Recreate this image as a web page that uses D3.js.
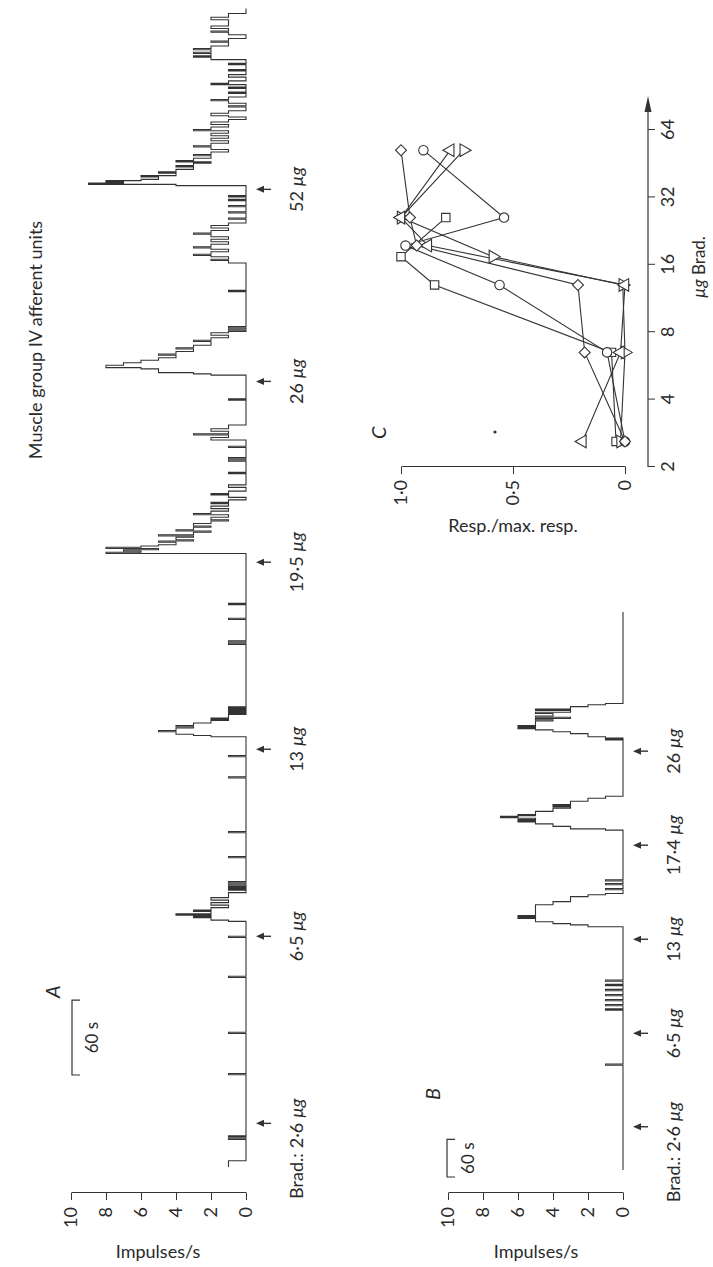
<!DOCTYPE html>
<html>
<head>
<meta charset="utf-8">
<script src="https://cdn.jsdelivr.net/npm/d3@7"></script>
<style>
  body { margin: 0; background: #fff; }
  text { font-family: Lato, "Open Sans", sans-serif; fill: #2a2a2a; }
</style>
</head>
<body>
<script>
const W = 713, H = 1267;

// ---- data ----
const impTicks = [0, 2, 4, 6, 8, 10];
const doseLabelsA = ["2·6", "6·5", "13", "19·5", "26", "52"];
const doseTimesA = [35, 185, 335, 485, 630, 784];
const doseLabelsB = ["2·6", "6·5", "13", "17·4", "26"];
const doseTimesB = [69, 218, 368, 518, 668];

// step histograms: [time s, impulses/s] (value holds until next entry)
const traceA = [[0,1],[5,0],[22,1],[23,0],[24,1],[25,0],[74,1],[75,0],[107,1],[108,0],[152,1],[153,0],[184,1],[185,0],
  [197,1],[198,2],[200,3],[201,2],[202,4],[203,2],[205,3],[206,2],[208,1],[210,2],[212,1],[214,2],[216,1],[220,0],
  [222,1],[223,0],[224,1],[225,0],[226,1],[227,0],[228,1],[229,0],
  [248,1],[249,0],[268,1],[269,0],[312,1],[313,0],[329,1],[330,0],
  [345,2],[346,3],[347,4],[349,5],[350,4],[352,3],[353,4],[354,3],[356,2],[358,1],[359,2],[360,1],[363,0],
  [364,1],[365,0],[366,1],[367,0],[368,1],[369,0],
  [419,1],[420,0],[421,1],[422,0],[439,1],[440,0],[451,1],[452,0],
  [492,8],[493,6],[494,7],[495,5],[496,8],[497,6],[498,5],[499,4],[501,5],[502,3],[503,4],[505,3],[506,5],[507,3],
  [509,2],[510,4],[511,3],[513,2],[514,3],[516,2],[518,1],[519,2],[521,1],[523,3],[524,2],[526,1],[528,2],[530,1],
  [532,2],[533,1],[535,0],[537,1],[539,2],[540,1],[542,0],[545,1],[547,0],[556,1],[557,0],[566,1],[567,0],[568,1],[569,0],
  [577,1],[578,0],[583,2],[585,1],[587,3],[588,1],[590,2],[592,1],[595,0],[615,1],[616,0],
  [635,2],[636,3],[637,5],[640,6],[641,8],[643,7],[645,6],[647,5],[649,4],[651,5],[652,4],[654,3],[656,4],[657,3],
  [659,2],[662,3],[663,2],[665,1],[667,2],[669,1],[670,0],[671,1],[672,0],[673,1],[674,0],[702,1],[703,0],
  [725,1],[727,2],[728,1],[730,2],[731,3],[732,2],[734,1],[736,2],[737,3],[738,2],[740,1],[742,2],[744,1],[746,2],
  [748,3],[749,2],[751,1],[753,2],[755,1],[757,0],[760,1],[761,0],[765,1],[766,0],[770,1],[771,0],[775,1],[776,0],[778,1],[779,0],
  [787,4],[788,9],[789,7],[790,8],[791,6],[792,5],[794,6],[795,4],[797,5],[798,4],[800,3],[802,4],[803,3],[805,2],
  [806,4],[807,3],[809,2],[811,3],[812,2],[814,1],[816,2],[818,3],[819,2],[821,1],[823,2],[825,1],[827,2],[829,1],
  [831,3],[832,2],[834,1],[836,2],[838,1],[840,0],[842,1],[843,2],[845,1],[847,0],[850,1],[851,0],[853,1],[855,2],
  [856,1],[858,0],[861,1],[862,0],[865,1],[866,0],[868,2],[869,1],[871,0],[874,1],[876,0],[879,1],[880,0],[884,1],
  [885,0],[888,2],[890,3],[891,2],[893,3],[894,2],[896,3],[897,2],[899,1],[902,2],[903,1],[905,0],[908,1],[910,2],
  [911,1],[913,2],[915,1],[920,2],[922,1],[925,0],[929,0]];

const traceB = [[0,0],[167,1],[169,0],
  [255,1],[257,0],[262,1],[264,0],[270,1],[272,0],[278,1],[280,0],[286,1],[288,0],[294,1],[296,0],[301,1],[303,0],
  [388,2],[391,3],[393,4],[396,5],[401,6],[402,5],[403,6],[404,5],[405,6],[406,5],[423,4],[428,3],[436,2],[439,1],[441,0],
  [447,1],[449,0],[455,1],[457,0],[461,1],[463,0],
  [542,1],[544,3],[548,4],[552,5],[555,6],[556,5],[558,6],[559,5],[561,6],[562,7],[564,6],[565,5],[566,6],[567,5],
  [572,4],[577,3],[579,4],[580,3],[582,4],[583,3],[588,2],[593,1],[596,0],
  [686,1],[688,0],[689,1],[691,2],[696,3],[699,4],[702,5],[704,6],[705,5],[706,6],[707,5],[708,6],[709,5],[716,4],
  [718,5],[720,3],[722,5],[724,4],[728,5],[730,3],[733,5],[735,3],[739,2],[742,1],[744,0],[890,0]];

// panel C: [dose µg, response / max response]
const doseTicksC = [2, 4, 8, 16, 32, 64];
const respTicksC = [0, 0.5, 1];
const circleUnit = [[2.6,0.0],[6.5,0.08],[13,0.56],[19.5,0.98],[26,0.54],[52,0.9]];
const diamondUnit = [[2.6,0.0],[6.5,0.18],[13,0.21],[19.5,0.93],[26,0.96],[52,1.0]];
const squareUnit = [[2.6,0.04],[6.5,0.06],[13,0.85],[17.4,1.0],[26,0.8]];
const triUpUnit = [[2.6,0.19],[6.5,0.02],[13,0.0],[19.5,0.88],[26,1.0],[52,0.78]];
const triDownUnit = [[2.6,0.02],[6.5,0.0],[13,0.01],[17.4,0.59],[26,1.0],[52,0.72]];

// ---- drawing ----
const svg = d3.select("body").append("svg").attr("width", W).attr("height", H);
svg.append("rect").attr("width", W).attr("height", H).attr("fill", "#fff");

// the figure is laid out landscape and turned a quarter turn
const fig = svg.append("g").attr("transform", `translate(0,${H}) rotate(-90)`);
const ink = "#333";

const yA = d3.scaleLinear().domain([0, 10]).range([246, 71]);
const xA = d3.scaleLinear().domain([0, 930]).range([100, 100 + 930 * 1.247]);
const yB = d3.scaleLinear().domain([0, 10]).range([623, 448]);
const xB = d3.scaleLinear().domain([0, 890]).range([97, 97 + 890 * 0.627]);

function impAxis(y) {
  const g = fig.append("g").attr("transform", "translate(74,0)")
    .call(d3.axisLeft(y).tickValues(impTicks).tickSize(7).tickSizeOuter(0).tickPadding(7));
  g.select(".domain").attr("stroke", ink);
  g.selectAll(".tick line").attr("stroke", ink);
  g.selectAll(".tick text").attr("font-size", 18).attr("font-family", "Lato").attr("fill", "#2a2a2a");
}
impAxis(yA);
impAxis(yB);

function trace(data, x, y) {
  fig.append("path").datum(data)
    .attr("fill", "none").attr("stroke", ink).attr("stroke-width", 1.1)
    .attr("d", d3.line().x(d => x(d[0])).y(d => y(d[1])).curve(d3.curveStepAfter));
}
trace(traceA, xA, yA);
trace(traceB, xB, yB);

function arrows(times, labels, x, base, first) {
  times.forEach((t, i) => {
    const X = x(t);
    fig.append("line").attr("x1", X).attr("x2", X).attr("y1", base + 25).attr("y2", base + 15)
      .attr("stroke", ink).attr("stroke-width", 1.4);
    fig.append("path").attr("d", `M${X},${base + 10}L${X - 3.5},${base + 18}L${X + 3.5},${base + 18}Z`).attr("fill", ink);
    const t1 = fig.append("text").attr("x", X).attr("y", base + 57).attr("text-anchor", "middle").attr("font-size", 18);
    t1.append("tspan").text(labels[i] + " ");
    t1.append("tspan").attr("font-style", "italic").text("µg");
    if (i === 0) {
      const w = t1.node().getComputedTextLength();
      fig.append("text").attr("x", X - w / 2 - 5).attr("y", base + 57)
        .attr("text-anchor", "end").attr("font-size", 18).text(first);
    }
  });
}
arrows(doseTimesA, doseLabelsA, xA, 246, "Brad.:");
arrows(doseTimesB, doseLabelsB, xB, 623, "Brad.:");

// scale bars
function scaleBar(x0, len, y, ty) {
  fig.append("path").attr("d", `M${x0},${y + 8}V${y}H${x0 + len}V${y + 8}`)
    .attr("fill", "none").attr("stroke", ink).attr("stroke-width", 1.2);
  fig.append("text").attr("x", x0 + len / 2).attr("y", ty).attr("text-anchor", "middle")
    .attr("font-size", 17).text("60 s");
}
scaleBar(xA(0) + 92, xA(60) - xA(0), 72, 98);
scaleBar(xB(0) - 7, xB(60) - xB(0), 447, 474);

fig.append("text").attr("x", 269).attr("y", 60).attr("font-size", 20).attr("font-style", "italic").text("A");
fig.append("text").attr("x", 167).attr("y", 440).attr("font-size", 20).attr("font-style", "italic").text("B");
fig.append("text").attr("x", 927).attr("y", 42).attr("text-anchor", "middle").attr("font-size", 18)
  .text("Muscle group IV afferent units");

// panel C
const xC = d3.scaleLog().base(2).domain([2, 64]).range([800, 800 + 5 * 67.4]);
const yC = d3.scaleLinear().domain([0, 1]).range([625, 401]);

const gx = fig.append("g").attr("transform", "translate(0,648)")
  .call(d3.axisBottom(xC).tickValues(doseTicksC).tickFormat(d3.format("d")).tickSize(7).tickSizeOuter(0).tickPadding(6));
gx.select(".domain").remove();
gx.append("line").attr("x1", xC(2)).attr("x2", 1160).attr("stroke", ink).attr("stroke-width", 1.2);
gx.append("path").attr("d", "M1171,0L1155,-3.5L1155,3.5Z").attr("fill", ink);
gx.selectAll(".tick line").attr("stroke", ink);
gx.selectAll(".tick text").attr("font-size", 18).attr("font-family", "Lato").attr("fill", "#2a2a2a");
fig.append("text").attr("x", 1000).attr("y", 705).attr("text-anchor", "middle").attr("font-size", 17)
  .call(t => { t.append("tspan").attr("font-style", "italic").text("µg"); t.append("tspan").text(" Brad."); });

const gy = fig.append("g").attr("transform", "translate(800,0)")
  .call(d3.axisLeft(yC).tickValues(respTicksC).tickSize(7).tickSizeOuter(0).tickPadding(6)
    .tickFormat(d => d === 0 ? "0" : d3.format(".1f")(d).replace(".", "·")));
gy.select(".domain").attr("stroke", ink);
gy.selectAll(".tick line").attr("stroke", ink);
gy.selectAll(".tick text").attr("font-size", 18).attr("font-family", "Lato").attr("fill", "#2a2a2a");
fig.append("text").attr("x", 828).attr("y", 386).attr("font-size", 20).attr("font-style", "italic").text("C");
fig.append("circle").attr("cx", 835).attr("cy", 495).attr("r", 1.6).attr("fill", ink);

const symbols = [
  { data: squareUnit, type: d3.symbolSquare, size: 70, rot: 0 },
  { data: triDownUnit, type: d3.symbolTriangle, size: 70, rot: 180 },
  { data: triUpUnit, type: d3.symbolTriangle, size: 70, rot: 0 },
  { data: circleUnit, type: d3.symbolCircle, size: 70, rot: 0 },
  { data: diamondUnit, type: d3.symbolSquare, size: 60, rot: 45 }
];
const cLine = d3.line().x(d => xC(d[0])).y(d => yC(d[1]));
symbols.forEach(s => {
  fig.append("path").datum(s.data).attr("fill", "none").attr("stroke", ink).attr("stroke-width", 1.1).attr("d", cLine);
});
symbols.forEach(s => {
  fig.append("g").selectAll("path").data(s.data).join("path")
    .attr("transform", d => `translate(${xC(d[0])},${yC(d[1])}) rotate(${s.rot})`)
    .attr("d", d3.symbol().type(s.type).size(s.size))
    .attr("fill", "#fff").attr("stroke", ink).attr("stroke-width", 1.1);
});

// horizontal (unturned) axis titles
svg.append("text").attr("x", 158).attr("y", 1258).attr("text-anchor", "middle").attr("font-size", 18).text("Impulses/s");
svg.append("text").attr("x", 536).attr("y", 1258).attr("text-anchor", "middle").attr("font-size", 18).text("Impulses/s");
svg.append("text").attr("x", 513).attr("y", 532).attr("text-anchor", "middle").attr("font-size", 18).text("Resp./max. resp.");
</script>
</body>
</html>
